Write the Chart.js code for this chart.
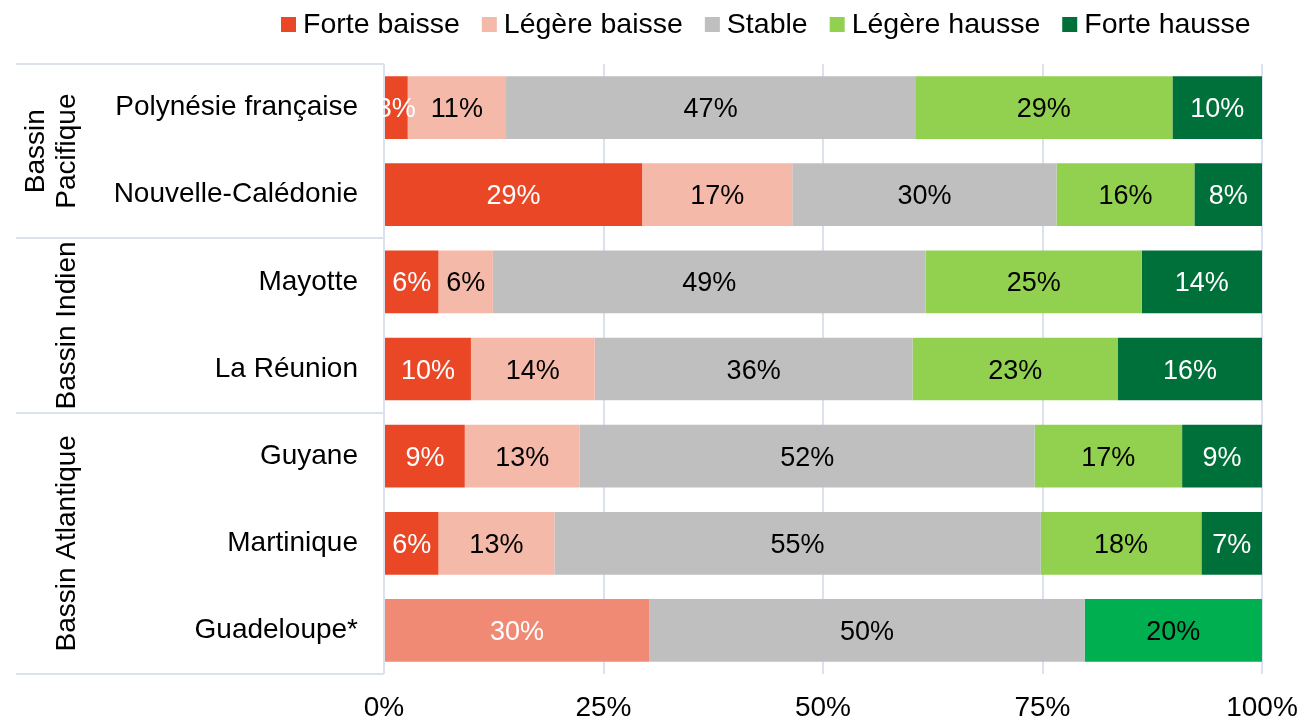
<!DOCTYPE html>
<html>
<head>
<meta charset="utf-8">
<script src="https://cdn.jsdelivr.net/npm/chart.js@4/dist/chart.umd.min.js"></script>
<style>
  html, body { margin: 0; padding: 0; background: #fff; }
</style>
</head>
<body>
<canvas id="chart" width="1301" height="718"></canvas>
<script>
// data (percent of each territory)
const categories = ['Polynésie française', 'Nouvelle-Calédonie', 'Mayotte', 'La Réunion', 'Guyane', 'Martinique', 'Guadeloupe*'];
const seriesNames = ['Forte baisse', 'Légère baisse', 'Stable', 'Légère hausse', 'Forte hausse'];
const forteBaisse = [2.7, 29.4, 6.2, 9.9, 9.2, 6.2, 0];
const legereBaisse = [11.2, 17.1, 6.2, 14.1, 13.1, 13.2, 30.2];
const stable = [46.6, 30.1, 49.3, 36.2, 51.8, 55.4, 49.6];
const legereHausse = [29.3, 15.7, 24.6, 23.4, 16.8, 18.3, 0];
const forteHausse = [10.2, 7.7, 13.7, 16.4, 9.1, 6.9, 20.2];
const xTicks = [0, 25, 50, 75, 100];

const groupNames = [['Bassin', 'Pacifique'], ['Bassin Indien'], ['Bassin Atlantique']];
const groupFirst = [0, 2, 4];
const groupLast = [1, 3, 6];

const FONT = '"Liberation Sans", Arial, sans-serif';
const colors = ['#E94726', '#F5B9AA', '#BFBFBF', '#92D050', '#00703A'];
const labelColors = ['#fff', '#000', '#000', '#000', '#fff'];
// Guadeloupe only has baisse / stable / hausse, drawn in its own shades
const guadeloupeIndex = 6;
const guadeloupeColors = { 1: '#F08A74', 4: '#00B050' };
const guadeloupeLabelColors = { 1: '#fff', 4: '#000' };
const gridColor = '#DCE1F0';

const values = [forteBaisse, legereBaisse, stable, legereHausse, forteHausse];

const datasets = seriesNames.map((name, i) => ({
    label: name,
    data: values[i],
    backgroundColor: categories.map((c, j) =>
        (j === guadeloupeIndex && guadeloupeColors[i]) ? guadeloupeColors[i] : colors[i]),
    labelColors: categories.map((c, j) =>
        (j === guadeloupeIndex && guadeloupeLabelColors[i]) ? guadeloupeLabelColors[i] : labelColors[i]),
    barPercentage: 0.72,
    categoryPercentage: 1,
}));

// percentage labels in the middle of each segment
const barLabels = {
    id: 'barLabels',
    afterDatasetsDraw(chart) {
        const ctx = chart.ctx;
        ctx.save();
        ctx.font = '27px ' + FONT;
        ctx.textAlign = 'center';
        ctx.textBaseline = 'alphabetic';
        chart.data.datasets.forEach((ds, i) => {
            const meta = chart.getDatasetMeta(i);
            meta.data.forEach((bar, j) => {
                const v = ds.data[j];
                if (!v) return;
                ctx.fillStyle = ds.labelColors[j];
                ctx.fillText(Math.round(v) + '%', (bar.x + bar.base) / 2, bar.y + 9.5);
            });
        });
        ctx.restore();
    },
};

// group separators and rotated basin names on the left
const groupPanel = {
    id: 'groupPanel',
    afterDraw(chart) {
        const ctx = chart.ctx;
        const y = chart.scales.y;
        const half = (y.getPixelForValue(1) - y.getPixelForValue(0)) / 2;
        const left = 16;
        const right = chart.chartArea.left;
        ctx.save();
        ctx.strokeStyle = gridColor;
        ctx.lineWidth = 2;
        groupNames.forEach((lines, k) => {
            const top = y.getPixelForValue(groupFirst[k]) - half;
            const bottom = y.getPixelForValue(groupLast[k]) + half;
            [top, bottom].forEach(py => {
                ctx.beginPath();
                ctx.moveTo(left, Math.round(py));
                ctx.lineTo(right, Math.round(py));
                ctx.stroke();
            });
            ctx.save();
            ctx.translate(0, (top + bottom) / 2);
            ctx.rotate(-Math.PI / 2);
            ctx.font = '28px ' + FONT;
            ctx.fillStyle = '#000';
            ctx.textAlign = 'center';
            ctx.textBaseline = 'alphabetic';
            // baseline of last line sits at x = 75, lines 31px apart
            lines.forEach((txt, n) => {
                const bx = 75 - (lines.length - 1 - n) * 31;
                ctx.fillText(txt, 0, bx);
            });
            ctx.restore();
        });
        ctx.restore();
    },
};

// legend across the top
const topLegend = {
    id: 'topLegend',
    afterDraw(chart) {
        const ctx = chart.ctx;
        ctx.save();
        ctx.font = '28.5px ' + FONT;
        ctx.textBaseline = 'alphabetic';
        let x = 281;
        seriesNames.forEach((name, i) => {
            ctx.fillStyle = colors[i];
            ctx.fillRect(x, 17, 15, 15);
            ctx.fillStyle = '#000';
            ctx.fillText(name, x + 22, 33);
            x += 22 + ctx.measureText(name).width + 22;
        });
        ctx.restore();
    },
};

new Chart(document.getElementById('chart').getContext('2d'), {
    type: 'bar',
    data: { labels: categories, datasets: datasets },
    options: {
        indexAxis: 'y',
        responsive: false,
        animation: false,
        devicePixelRatio: 1,
        layout: { padding: { top: 64, right: 39, left: 0, bottom: 0 } },
        plugins: {
            legend: { display: false },
            tooltip: { enabled: false },
        },
        scales: {
            x: {
                stacked: true,
                min: 0,
                max: 100,
                afterBuildTicks: (scale) => { scale.ticks = xTicks.map(v => ({ value: v })); },
                afterFit: (scale) => {
                    scale.height = 44;
                    scale.paddingLeft = 0;
                    scale.paddingRight = 0;
                },
                ticks: {
                    callback: (v) => v + '%',
                    font: { size: 28, family: FONT },
                    color: '#000',
                    padding: 17,
                    maxRotation: 0,
                    autoSkip: false,
                },
                grid: { color: gridColor, lineWidth: 2, drawTicks: false },
                border: { display: false },
            },
            y: {
                stacked: true,
                afterFit: (scale) => { scale.width = 384; },
                ticks: {
                    font: { size: 28, family: FONT },
                    color: '#000',
                    padding: 26,
                },
                grid: { display: false, drawTicks: false },
                border: { display: false },
            },
        },
    },
    plugins: [barLabels, groupPanel, topLegend],
});
</script>
</body>
</html>
